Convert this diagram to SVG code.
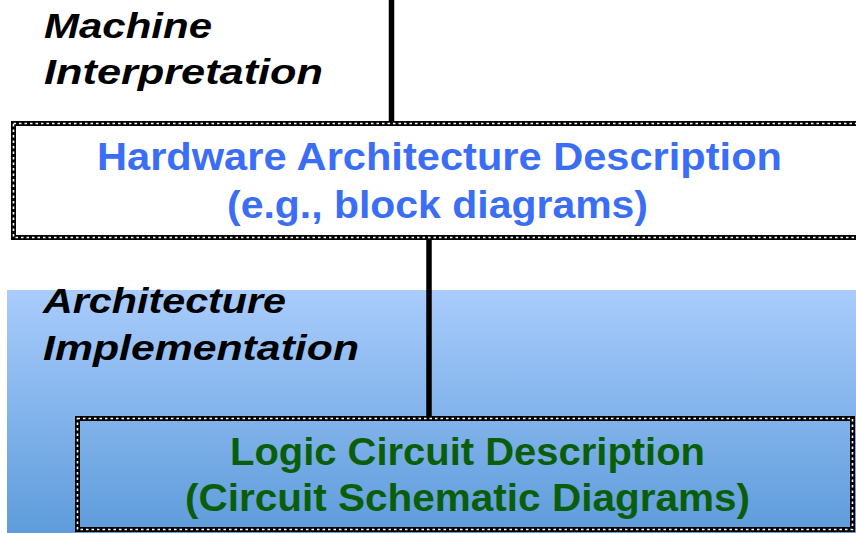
<svg xmlns="http://www.w3.org/2000/svg" width="856" height="533" viewBox="0 0 856 533">
<defs>
<linearGradient id="bg" x1="0" y1="0" x2="0" y2="1">
<stop offset="0" stop-color="#a9ccfc"/>
<stop offset="1" stop-color="#5e9cdb"/>
</linearGradient>
</defs>
<style>
.lbl{font-family:"Liberation Sans",Arial,sans-serif;font-weight:bold;font-style:italic;font-size:35px;fill:#000}
.hw{font-family:"Liberation Sans",Arial,sans-serif;font-weight:bold;font-size:39px;fill:#3b6ef6}
.lc{font-family:"Liberation Sans",Arial,sans-serif;font-weight:bold;font-size:39px;fill:#0a5e0a}
.bk{fill:none;stroke:#000;stroke-width:5}
.bw{fill:none;stroke:#fff;stroke-width:1.6;stroke-dasharray:2.5 3}
.wire{stroke:#000;stroke-width:5.5;fill:none}
</style>
<rect x="7" y="290" width="849" height="243" fill="url(#bg)"/>
<g id="connectors">
<line class="wire" x1="391.5" y1="0" x2="391.5" y2="122"/>
<line class="wire" x1="429" y1="239" x2="429" y2="418"/>
</g>
<g id="label-machine">
<text class="lbl" x="44" y="38" textLength="168" lengthAdjust="spacingAndGlyphs">Machine</text>
<text class="lbl" x="44" y="84" textLength="279" lengthAdjust="spacingAndGlyphs">Interpretation</text>
</g>
<g id="node-hardware">
<rect class="bk" x="13.5" y="123.5" width="850" height="114"/>
<rect class="bw" x="13.5" y="123.5" width="850" height="114"/>
<text class="hw" x="97" y="170" textLength="685" lengthAdjust="spacingAndGlyphs">Hardware Architecture Description</text>
<text class="hw" x="227" y="218" textLength="421" lengthAdjust="spacingAndGlyphs">(e.g., block diagrams)</text>
</g>
<g id="label-arch">
<text class="lbl" x="43" y="313" textLength="243" lengthAdjust="spacingAndGlyphs">Architecture</text>
<text class="lbl" x="43" y="360" textLength="316" lengthAdjust="spacingAndGlyphs">Implementation</text>
</g>
<g id="node-logic">
<rect class="bk" x="77.5" y="418.5" width="775" height="111"/>
<rect class="bw" x="77.5" y="418.5" width="775" height="111"/>
<text class="lc" x="230" y="465" textLength="475" lengthAdjust="spacingAndGlyphs">Logic Circuit Description</text>
<text class="lc" x="185" y="511" textLength="565" lengthAdjust="spacingAndGlyphs">(Circuit Schematic Diagrams)</text>
</g>
</svg>
